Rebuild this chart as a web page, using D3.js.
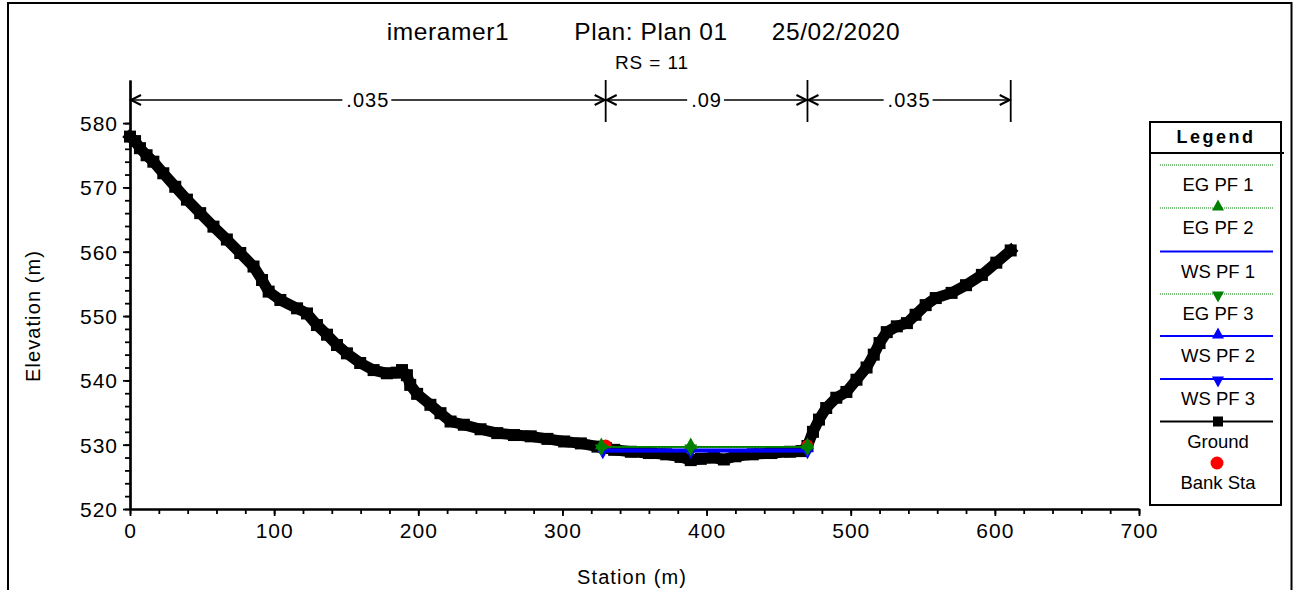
<!DOCTYPE html>
<html><head><meta charset="utf-8">
<script src="https://cdn.jsdelivr.net/npm/d3@7"></script>
<style>
html,body{margin:0;padding:0;background:#fff;}
svg{display:block;font-family:"Liberation Sans",Arial,sans-serif;}
</style></head>
<body>
<svg id="c" width="1300" height="590"></svg>
<script>
// ---------- data ----------
const titleParts = ["imeramer1", "Plan: Plan 01", "25/02/2020"];
const subTitle = "RS = 11";
const xLabel = "Station (m)";
const yLabel = "Elevation (m)";
const xTicks = [0, 100, 200, 300, 400, 500, 600, 700];
const yTicks = [520, 530, 540, 550, 560, 570, 580];

const groundSta = [0, 3.5, 6.9, 11.5, 16.2, 23.1, 31.4, 39.5, 48.7, 57.9, 67.2, 76.5, 85.7, 91.6, 96.2, 104.3, 115.9, 122.8, 129.7, 136.7, 143.6, 150.5, 159.7, 169.0, 178.2, 185, 188.7, 192.1, 194.4, 199.2, 208.4, 215.4, 222.4, 231.6, 243.2, 254.8, 266.4, 278, 289.6, 301.2, 312.8, 324.3, 330, 335.9, 347.5, 360, 372, 382, 389, 396, 405, 412, 420, 432, 445, 458, 466, 470, 473.8, 478, 483, 490, 497, 504, 511, 516, 520, 525, 532, 539, 545, 552, 559, 570, 580, 591, 601, 611];
const groundElev = [577.9, 577.2, 576.1, 575.0, 574.0, 572.2, 570.1, 568.1, 566.0, 563.9, 561.9, 559.8, 557.7, 555.6, 553.8, 552.5, 551.2, 550.4, 548.6, 547.1, 545.5, 544.2, 542.7, 541.6, 541.1, 541.2, 541.6, 540.8, 539.3, 537.9, 536.2, 534.9, 533.6, 533.1, 532.4, 531.8, 531.5, 531.3, 530.9, 530.5, 530.2, 529.7, 529.5, 529.2, 528.9, 528.7, 528.5, 528.1, 527.6, 527.8, 528.0, 527.7, 528.2, 528.5, 528.7, 528.9, 529.0, 529.8, 532.0, 533.9, 535.7, 537.3, 538.2, 540.1, 542.0, 544.0, 545.8, 547.5, 548.4, 548.9, 550.2, 551.7, 552.8, 553.6, 554.8, 556.4, 558.3, 560.2];

const bankSta = [330, 470];
const bankElev = [529.95, 529.95];

const egSta = [327, 389, 470];
const egPF1 = [529.65, 529.65, 529.65];
const egPF2 = [529.65, 529.65, 529.65];
const egPF3 = [529.65, 529.65, 529.65];
const wsSta = [328, 389, 470];
const wsPF1 = [529.1, 529.1, 529.1];
const wsPF2 = [529.1, 529.1, 529.1];
const wsPF3 = [529.1, 529.1, 529.1];

const manningBounds = [0, 330, 470, 611];
const manningN = [".035", ".09", ".035"];

const legendNames = ["EG PF 1", "EG PF 2", "WS PF 1", "EG PF 3", "WS PF 2", "WS PF 3", "Ground", "Bank Sta"];

// ---------- layout ----------
const svg = d3.select("#c");
const GREEN = "#008000", BLUE = "#0000ff", RED = "#ff0000";
const x = d3.scaleLinear().domain([0, 700]).range([130, 1139]);
const y = d3.scaleLinear().domain([520, 586.7]).range([509, 80]);

// frame
svg.append("rect").attr("x", 8).attr("y", 3).attr("width", 1283.5).attr("height", 640)
  .attr("fill", "none").attr("stroke", "#000").attr("stroke-width", 2);

// title
const titleX = [448, 651, 836];
titleParts.forEach((t, i) => {
  svg.append("text").attr("x", titleX[i]).attr("y", 40).attr("text-anchor", "middle")
    .attr("font-size", 24.5).attr("letter-spacing", 0.6).text(t);
});
svg.append("text").attr("x", 652).attr("y", 69).attr("text-anchor", "middle")
  .attr("font-size", 19).attr("letter-spacing", 0.9).text(subTitle);

// axes
const gx = svg.append("g").attr("transform", `translate(0,${y(520)})`);
gx.call(d3.axisBottom(x).tickValues(d3.range(0, 701, 20)).tickFormat("").tickSize(5).tickSizeOuter(0));
gx.append("g").call(d3.axisBottom(x).tickValues(xTicks).tickSize(7).tickSizeOuter(0).tickPadding(6));
gx.selectAll("path.domain").attr("stroke-width", 2.2);
gx.selectAll("line").attr("stroke-width", 1.8);
gx.selectAll("text").attr("font-size", 21).attr("letter-spacing", 1)
  .attr("font-family", "Liberation Sans, Arial, sans-serif").attr("fill", "#000").attr("dy", "0.78em");

const gy = svg.append("g").attr("transform", `translate(${x(0)},0)`);
gy.call(d3.axisLeft(y).tickValues(d3.range(520, 581, 2)).tickFormat("").tickSize(5).tickSizeOuter(0));
gy.append("g").call(d3.axisLeft(y).tickValues(yTicks).tickSize(7).tickSizeOuter(0).tickPadding(5));
gy.selectAll("path.domain").attr("stroke-width", 2.2);
gy.selectAll("line").attr("stroke-width", 1.8);
gy.selectAll("text").attr("font-size", 21).attr("letter-spacing", 1)
  .attr("font-family", "Liberation Sans, Arial, sans-serif").attr("fill", "#000").attr("dy", "0.36em");

svg.append("text").attr("x", 632).attr("y", 584).attr("text-anchor", "middle")
  .attr("font-size", 20).attr("letter-spacing", 1.1).text(xLabel);
svg.append("text").attr("transform", "translate(40,316) rotate(-90)").attr("text-anchor", "middle")
  .attr("font-size", 20).attr("letter-spacing", 1.1).text(yLabel);

// Manning's n bar
const mY = 100;
const mg = svg.append("g").attr("stroke", "#000").attr("stroke-width", 1.8).attr("fill", "none");
manningBounds.slice(1).forEach(s => {
  mg.append("line").attr("x1", x(s)).attr("x2", x(s)).attr("y1", 80).attr("y2", 122);
});
for (let i = 0; i < manningN.length; i++) {
  const a = x(manningBounds[i]), b = x(manningBounds[i + 1]);
  const gm = svg.append("g");
  gm.append("line").attr("x1", a).attr("x2", b).attr("y1", mY).attr("y2", mY)
    .attr("stroke", "#000").attr("stroke-width", 1.6);
  gm.append("path").attr("d", `M${a + 11},${mY - 5} L${a + 1},${mY} L${a + 11},${mY + 5}`)
    .attr("stroke", "#000").attr("stroke-width", 2).attr("fill", "none");
  gm.append("path").attr("d", `M${b - 11},${mY - 5} L${b - 1},${mY} L${b - 11},${mY + 5}`)
    .attr("stroke", "#000").attr("stroke-width", 2).attr("fill", "none");
  const t = gm.append("text").attr("x", (a + b) / 2).attr("y", mY + 7).attr("text-anchor", "middle")
    .attr("font-size", 20).attr("letter-spacing", 1).text(manningN[i]);
  const bb = t.node().getBBox();
  gm.insert("rect", "text").attr("x", bb.x - 4).attr("y", mY - 4).attr("width", bb.width + 6).attr("height", 8).attr("fill", "#fff");
}

// ground
const ground = groundSta.map((s, i) => [s, groundElev[i]]);
const line = d3.line().x(d => x(d[0])).y(d => y(d[1]));
svg.append("path").datum(ground).attr("d", line).attr("fill", "none")
  .attr("stroke", "#000").attr("stroke-width", 11).attr("stroke-linejoin", "round").attr("stroke-linecap", "square");
svg.append("g").selectAll("rect").data(ground).join("rect")
  .attr("x", d => x(d[0]) - 6).attr("y", d => y(d[1]) - 6).attr("width", 12).attr("height", 12).attr("fill", "#000");

// bank stations
svg.append("g").selectAll("circle").data(bankSta.map((s, i) => [s, bankElev[i]])).join("circle")
  .attr("cx", d => x(d[0])).attr("cy", d => y(d[1])).attr("r", 5.5).attr("fill", RED);

// markers
function tri(cx, cy, up, size) {
  const h = size * 0.9, w = size / 2;
  return up ? `M${cx - w},${cy + h / 2} L${cx + w},${cy + h / 2} L${cx},${cy - h / 2} Z`
            : `M${cx - w},${cy - h / 2} L${cx + w},${cy - h / 2} L${cx},${cy + h / 2} Z`;
}
function series(sta, vals, color, width, dash, marker, msize) {
  const pts = sta.map((s, i) => [s, vals[i]]);
  const p = svg.append("path").datum(pts).attr("d", line).attr("fill", "none")
    .attr("stroke", color).attr("stroke-width", width);
  if (dash) p.attr("stroke-dasharray", dash);
  if (marker) {
    svg.append("g").selectAll("path").data(pts).join("path")
      .attr("d", d => tri(x(d[0]), y(d[1]) + (marker === "up" ? -3.5 : 3.5), marker === "up", msize))
      .attr("fill", color);
  }
}
series(wsSta, wsPF1, BLUE, 3.5, null, null);
series(wsSta, wsPF2, BLUE, 3.5, null, "up", 12);
series(wsSta, wsPF3, BLUE, 3.5, null, "down", 12);
series(egSta, egPF1, GREEN, 1.8, null, null);
series(egSta, egPF2, GREEN, 1.8, "2,1", "up", 13);
series(egSta, egPF3, GREEN, 1.8, "2,1", "down", 13);

// legend
const L = { x: 1150, y: 122, w: 131, h: 383 };
const lg = svg.append("g");
lg.append("rect").attr("x", L.x).attr("y", L.y).attr("width", L.w).attr("height", L.h)
  .attr("fill", "#fff").attr("stroke", "#000").attr("stroke-width", 2);
lg.append("line").attr("x1", L.x).attr("x2", L.x + L.w + 3).attr("y1", 153).attr("y2", 153)
  .attr("stroke", "#000").attr("stroke-width", 2);
lg.append("text").attr("x", 1216).attr("y", 143).attr("text-anchor", "middle")
  .attr("font-size", 18).attr("font-weight", "bold").attr("letter-spacing", 2.5).text("Legend");
const legStyle = [
  { c: GREEN, w: 1, dash: "1,1", m: null },
  { c: GREEN, w: 1, dash: "1,1", m: "up" },
  { c: BLUE, w: 2, dash: null, m: null },
  { c: GREEN, w: 1, dash: "1,1", m: "down" },
  { c: BLUE, w: 2, dash: null, m: "up" },
  { c: BLUE, w: 2, dash: null, m: "down" },
  { c: "#000", w: 2, dash: null, m: "sq" },
  { c: RED, w: 0, dash: null, m: "circ" }
];
const lineYs = [165, 208, 251.5, 294, 336, 379, 421.5, 463];
legendNames.forEach((n, i) => {
  const st = legStyle[i], ly = lineYs[i];
  if (st.w > 0) {
    const ln = lg.append("line").attr("x1", 1160).attr("x2", 1273).attr("y1", ly).attr("y2", ly)
      .attr("stroke", st.c).attr("stroke-width", st.w);
    if (st.dash) ln.attr("stroke-dasharray", st.dash);
  }
  if (st.m === "up" || st.m === "down") {
    lg.append("path").attr("d", tri(1218, ly + (st.m === "up" ? -3 : 3), st.m === "up", 12)).attr("fill", st.c);
  } else if (st.m === "sq") {
    lg.append("rect").attr("x", 1213).attr("y", ly - 5).attr("width", 10).attr("height", 10).attr("fill", "#000");
  } else if (st.m === "circ") {
    lg.append("circle").attr("cx", 1217).attr("cy", ly).attr("r", 6.5).attr("fill", RED);
  }
  lg.append("text").attr("x", 1218).attr("y", ly + 26).attr("text-anchor", "middle")
    .attr("font-size", 18.5).text(n);
});
</script>
</body></html>
